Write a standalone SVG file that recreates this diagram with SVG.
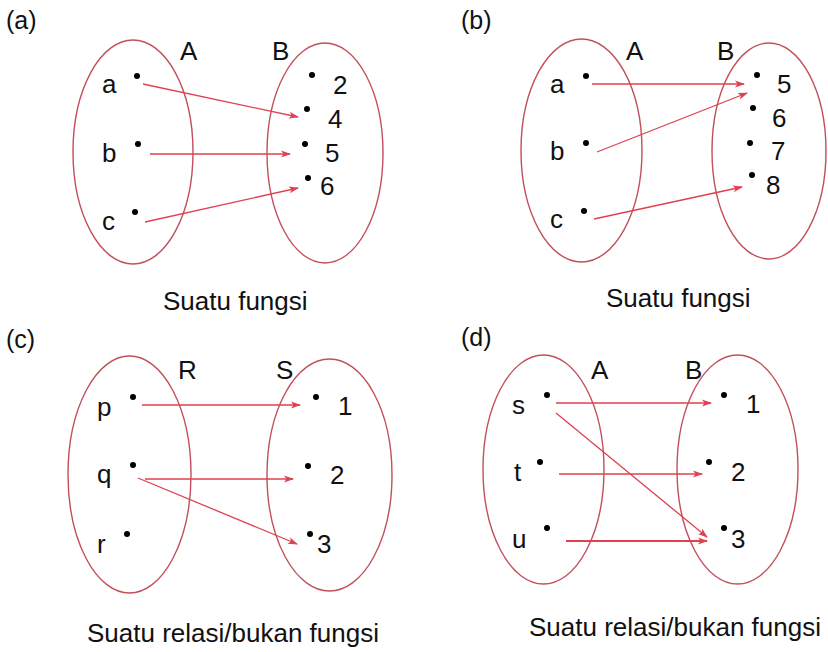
<svg xmlns="http://www.w3.org/2000/svg" width="828" height="652" viewBox="0 0 828 652">
<style>
  text { font-family: "Liberation Sans", Arial, sans-serif; fill: #111; }
  .lbl { font-size: 25px; }
  .t { font-size: 26px; }
  .set { fill: none; stroke: #c2505a; stroke-width: 1.4; }
  .dot { fill: #000; }
  .arr { stroke: #e0404f; stroke-width: 1.3; fill: none; marker-end: url(#ah); }
  .arr2 { stroke: #e0404f; stroke-width: 2; fill: none; marker-end: url(#ah); }
</style>
<defs>
  <marker id="ah" viewBox="0 0 10 8" refX="9" refY="4" markerWidth="10" markerHeight="8" markerUnits="userSpaceOnUse" orient="auto">
    <path d="M0,0.5 L10,4 L0,7.5 L2.5,4 Z" fill="#e0404f"/>
  </marker>
</defs>
<rect width="828" height="652" fill="#fff"/>

<!-- Panel (a) -->
<g id="panel-a">
  <text class="lbl" x="6" y="29">(a)</text>
  <g id="a-setA">
    <ellipse class="set" cx="133" cy="152" rx="60" ry="112"/>
    <text class="t" x="180" y="60">A</text>
  </g>
  <g id="a-setB">
    <ellipse class="set" cx="325" cy="153" rx="58" ry="110"/>
    <text class="t" x="272" y="60">B</text>
  </g>
  <g id="a-a"><circle class="dot" cx="137" cy="76" r="3"/><text class="t" x="102" y="93">a</text></g>
  <g id="a-b"><circle class="dot" cx="138" cy="144" r="3"/><text class="t" x="102" y="162">b</text></g>
  <g id="a-c"><circle class="dot" cx="135" cy="212" r="3"/><text class="t" x="102" y="230">c</text></g>
  <g id="a-2"><circle class="dot" cx="312" cy="75" r="3"/><text class="t" x="333" y="94">2</text></g>
  <g id="a-4"><circle class="dot" cx="307" cy="109" r="3"/><text class="t" x="328" y="128">4</text></g>
  <g id="a-5"><circle class="dot" cx="305" cy="144" r="3"/><text class="t" x="325" y="162">5</text></g>
  <g id="a-6"><circle class="dot" cx="308" cy="178" r="3"/><text class="t" x="320" y="195">6</text></g>
  <text class="t" x="163" y="310">Suatu fungsi</text>
</g>
<g id="connectors-a">
  <line class="arr" x1="143" y1="84" x2="298" y2="117"/>
  <line class="arr" x1="150" y1="154" x2="290" y2="154"/>
  <line class="arr" x1="145" y1="222" x2="298" y2="188"/>
</g>

<!-- Panel (b) -->
<g id="panel-b">
  <text class="lbl" x="461" y="29">(b)</text>
  <g id="b-setA">
    <ellipse class="set" cx="581.5" cy="150.5" rx="60.5" ry="111.5"/>
    <text class="t" x="626" y="60">A</text>
  </g>
  <g id="b-setB">
    <ellipse class="set" cx="769" cy="151" rx="57" ry="108"/>
    <text class="t" x="717" y="60">B</text>
  </g>
  <g id="b-a"><circle class="dot" cx="586" cy="76" r="3"/><text class="t" x="550" y="93">a</text></g>
  <g id="b-b"><circle class="dot" cx="586" cy="143" r="3"/><text class="t" x="550" y="160">b</text></g>
  <g id="b-c"><circle class="dot" cx="584" cy="211" r="3"/><text class="t" x="550" y="228">c</text></g>
  <g id="b-5"><circle class="dot" cx="757" cy="75" r="3"/><text class="t" x="777" y="93">5</text></g>
  <g id="b-6"><circle class="dot" cx="753" cy="108" r="3"/><text class="t" x="772" y="127">6</text></g>
  <g id="b-7"><circle class="dot" cx="750" cy="143" r="3"/><text class="t" x="771" y="160">7</text></g>
  <g id="b-8"><circle class="dot" cx="752" cy="175" r="3"/><text class="t" x="766" y="194">8</text></g>
  <text class="t" x="606" y="307">Suatu fungsi</text>
</g>
<g id="connectors-b">
  <line class="arr" x1="592" y1="84" x2="744" y2="84"/>
  <line class="arr" x1="597" y1="152" x2="747" y2="93"/>
  <line class="arr" x1="594" y1="219" x2="742" y2="187"/>
</g>

<!-- Panel (c) -->
<g id="panel-c">
  <text class="lbl" x="6" y="348">(c)</text>
  <g id="c-setR">
    <ellipse class="set" cx="129.5" cy="474.5" rx="61.5" ry="118.5"/>
    <text class="t" x="178" y="379">R</text>
  </g>
  <g id="c-setS">
    <ellipse class="set" cx="329.5" cy="475" rx="62.5" ry="116"/>
    <text class="t" x="276" y="379">S</text>
  </g>
  <g id="c-p"><circle class="dot" cx="133" cy="397" r="3"/><text class="t" x="97" y="416">p</text></g>
  <g id="c-q"><circle class="dot" cx="133" cy="465" r="3"/><text class="t" x="97" y="483">q</text></g>
  <g id="c-r"><circle class="dot" cx="127" cy="534" r="3"/><text class="t" x="97" y="553">r</text></g>
  <g id="c-1"><circle class="dot" cx="316" cy="397" r="3"/><text class="t" x="338" y="415">1</text></g>
  <g id="c-2"><circle class="dot" cx="308" cy="466" r="3"/><text class="t" x="330" y="484">2</text></g>
  <g id="c-3"><circle class="dot" cx="310" cy="534" r="3"/><text class="t" x="317" y="553">3</text></g>
  <text class="t" x="87" y="642">Suatu relasi/bukan fungsi</text>
</g>
<g id="connectors-c">
  <line class="arr" x1="142" y1="405" x2="300" y2="405"/>
  <line class="arr" x1="145" y1="479" x2="293" y2="479"/>
  <line class="arr" x1="138" y1="478" x2="297" y2="544"/>
</g>

<!-- Panel (d) -->
<g id="panel-d">
  <text class="lbl" x="461" y="346">(d)</text>
  <g id="d-setA">
    <ellipse class="set" cx="543.5" cy="469.5" rx="60.5" ry="114.5"/>
    <text class="t" x="591" y="379">A</text>
  </g>
  <g id="d-setB">
    <ellipse class="set" cx="737.5" cy="469.5" rx="60.5" ry="114.5"/>
    <text class="t" x="685" y="379">B</text>
  </g>
  <g id="d-s"><circle class="dot" cx="547" cy="395" r="3"/><text class="t" x="512" y="414">s</text></g>
  <g id="d-t"><circle class="dot" cx="540" cy="462" r="3"/><text class="t" x="514" y="481">t</text></g>
  <g id="d-u"><circle class="dot" cx="547" cy="528" r="3"/><text class="t" x="512" y="548">u</text></g>
  <g id="d-1"><circle class="dot" cx="724" cy="395" r="3"/><text class="t" x="746" y="413">1</text></g>
  <g id="d-2"><circle class="dot" cx="709" cy="462" r="3"/><text class="t" x="731" y="481">2</text></g>
  <g id="d-3"><circle class="dot" cx="724" cy="528" r="3"/><text class="t" x="731" y="548">3</text></g>
  <text class="t" x="529" y="636">Suatu relasi/bukan fungsi</text>
</g>
<g id="connectors-d">
  <line class="arr" x1="556" y1="403" x2="711" y2="403"/>
  <line class="arr" x1="556" y1="413" x2="707" y2="537"/>
  <line class="arr" x1="559" y1="474" x2="702" y2="474"/>
  <line class="arr2" x1="566" y1="541" x2="707" y2="541"/>
</g>
</svg>
